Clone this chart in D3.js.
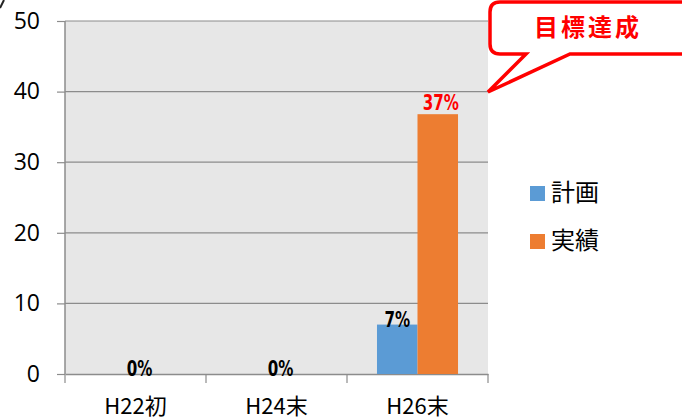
<!DOCTYPE html>
<html><head><meta charset="utf-8">
<script src="https://cdn.jsdelivr.net/npm/d3@7"></script>
<style>body{margin:0;background:#fff;} svg{display:block;}</style>
</head><body>
<svg id="c" width="682" height="419"></svg>
<script>
const categories = ["H22初", "H24末", "H26末"];
const planValues = [0, 0, 7];
const actualValues = [0, 0, 36.8];
const planLabels = ["0%", "0%", "7%"];
const actualLabels = ["", "", "37%"];
const seriesNames = ["計画", "実績"];
const yTicks = [0, 10, 20, 30, 40, 50];
const calloutText = "目標達成";

(function () {
const svg = d3.select("#c");
const pL = 65, pR = 488, pT = 21, pB = 374;
const jp = "'Noto Sans CJK JP', sans-serif";
const num = "'Open Sans', 'Liberation Sans', sans-serif";

const x = d3.scaleBand().domain(categories).range([pL, pR]).paddingInner(0).paddingOuter(0);
const y = d3.scaleLinear().domain([0, 50]).range([pB, pT]);
const sub = d3.scaleBand().domain(seriesNames).range([0, x.bandwidth()]).paddingInner(0).paddingOuter(0.74);
const colors = {"計画": "#5b9bd5", "実績": "#ed7d31"};

svg.append("rect").attr("x", pL).attr("y", pT).attr("width", pR - pL).attr("height", pB - pT).attr("fill", "#e7e7e7");

svg.append("g").selectAll("line").data(yTicks.filter(d => d > 0)).join("line")
  .attr("x1", pL).attr("x2", pR).attr("y1", d => y(d)).attr("y2", d => y(d))
  .attr("stroke", "#8c8c8c").attr("stroke-width", 1.2);

const ya = svg.append("g").attr("transform", `translate(${pL},0)`)
  .call(d3.axisLeft(y).tickValues(yTicks).tickSize(8).tickPadding(17));
ya.select(".domain").attr("stroke", "#8c8c8c").attr("stroke-width", 1.5).attr("d", `M0,${pT}V${pB}`);
ya.selectAll(".tick line").attr("stroke", "#8c8c8c").attr("stroke-width", 1.2);
ya.selectAll(".tick text").attr("font-family", num).attr("font-size", 23).attr("fill", "#000");

const xa = svg.append("g").attr("transform", `translate(0,${pB})`)
  .call(d3.axisBottom(x).tickSize(0).tickPadding(24));
xa.select(".domain").attr("stroke", "#8c8c8c").attr("stroke-width", 1.5);
xa.selectAll(".tick text").attr("font-family", jp).attr("font-size", 22).attr("fill", "#000");
const bounds = [...categories.map(c => x(c)), pR];
svg.append("g").selectAll("line").data(bounds).join("line")
  .attr("x1", d => d).attr("x2", d => d).attr("y1", pB).attr("y2", pB + 9)
  .attr("stroke", "#8c8c8c").attr("stroke-width", 1.2);

const rows = categories.map((c, i) => ({c, vals: [{s: "計画", v: planValues[i], l: planLabels[i], col: "#000", dy: 2}, {s: "実績", v: actualValues[i], l: actualLabels[i], col: "#ff0000", dy: -4}]}));
const g = svg.append("g").selectAll("g").data(rows).join("g").attr("transform", d => `translate(${x(d.c)},0)`);
g.selectAll("rect").data(d => d.vals).join("rect")
  .attr("x", d => sub(d.s)).attr("width", sub.bandwidth())
  .attr("y", d => y(d.v)).attr("height", d => y(0) - y(d.v)).attr("fill", d => colors[d.s]);

const lx = d => d.v === 0 ? x.bandwidth() / 2 + 4 : sub(d.s) + sub.bandwidth() / 2 + (d.dy < 0 ? 3 : 0);
g.selectAll("text").data(d => d.vals.filter(v => v.l)).join("text")
  .attr("x", lx)
  .attr("y", d => y(d.v) + d.dy)
  .attr("text-anchor", "middle").attr("font-family", "'DejaVu Sans Condensed','DejaVu Sans',sans-serif")
  .attr("font-weight", "bold").attr("font-size", 21).attr("fill", d => d.col)
  .attr("transform", d => `translate(${lx(d)},0) scale(0.8,1) translate(${-lx(d)},0)`)
  .text(d => d.l);

const lg = svg.append("g").attr("transform", "translate(530,186)");
seriesNames.forEach((s, i) => {
  lg.append("rect").attr("x", 0).attr("y", i * 48).attr("width", 15).attr("height", 15).attr("fill", colors[s]);
  lg.append("text").attr("x", 21).attr("y", i * 48 + 15).attr("font-family", jp).attr("font-size", 24).attr("fill", "#000").text(s);
});

const cx0 = 490, cy0 = 2, cx1 = 700, cy1 = 54, r = 10, tx1 = 526, tx2 = 570, px = 488, py = 92;
const path = `M${cx0 + r},${cy0} H${cx1} V${cy1} H${tx2} L${px},${py} L${tx1},${cy1} H${cx0 + r} Q${cx0},${cy1} ${cx0},${cy1 - r} V${cy0 + r} Q${cx0},${cy0} ${cx0 + r},${cy0} Z`;
svg.append("path").attr("d", path).attr("fill", "#fff").attr("stroke", "#ff0000").attr("stroke-width", 3.5).attr("stroke-linejoin", "miter");
svg.append("text").attr("x", 588).attr("y", 36).attr("text-anchor", "middle").attr("font-family", jp)
  .attr("font-weight", "bold").attr("font-size", 24).attr("fill", "#ff0000").attr("letter-spacing", 3).text(calloutText);

svg.append("line").attr("x1", 0).attr("y1", 8).attr("x2", 4).attr("y2", 0).attr("stroke", "#222").attr("stroke-width", 2);
})();
</script>
</body></html>
